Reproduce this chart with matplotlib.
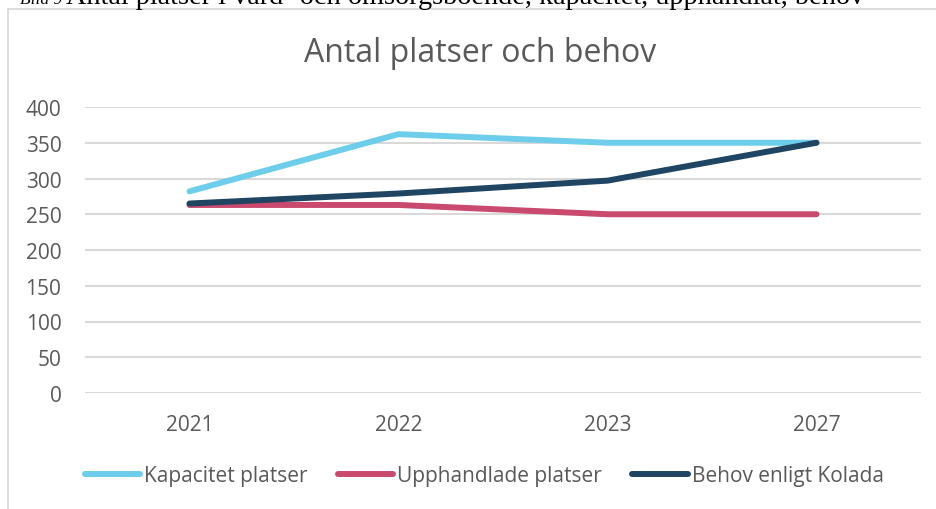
import matplotlib.pyplot as plt
from matplotlib.patches import Rectangle
from matplotlib.lines import Line2D

plt.rcParams['font.family'] = ['Open Sans', 'DejaVu Sans']

# data
years = ['2021', '2022', '2023', '2027']
kapacitet = [282, 362, 350, 350]
upphandlade = [263, 263, 250, 250]
behov = [265, 279, 297, 350]
series_names = ['Kapacitet platser', 'Upphandlade platser', 'Behov enligt Kolada']
colors = ['#6DCDEA', '#C94A6E', '#1F4563']

W, H = 936, 510
fig = plt.figure(figsize=(W / 100, H / 100), dpi=100)

# outer frame of the chart (clipped at right/bottom)
fig.patches.append(Rectangle((8 / W, -0.1), 1.0, (H - 9.5) / H + 0.1,
                             transform=fig.transFigure, fill=False,
                             edgecolor='#D9D9D9', linewidth=1.3))

# caption cut off at top
fig.text(20 / W, 1 - 4 / H, 'Bild 9', fontsize=12.5, style='italic',
         family='Liberation Serif', va='baseline', ha='left')
fig.text(66 / W, 1 - 4 / H,
         'Antal platser i vård- och omsorgsboende, kapacitet, upphandlat, behov',
         fontsize=20.3, family='Liberation Serif', va='baseline', ha='left')

ax = fig.add_axes([85 / W, (H - 394) / H, (921 - 85) / W, (394 - 108) / H])
x = range(len(years))
for vals, c, name in zip([kapacitet, upphandlade, behov], colors, series_names):
    ax.plot(x, vals, color=c, linewidth=4.3, solid_capstyle='round', label=name, zorder=3)

ax.set_xlim(-0.5, 3.5)
ax.set_ylim(0, 400)
ax.set_yticks(range(0, 401, 50))
ax.set_xticks(list(x))
ax.set_xticklabels(years)
ax.yaxis.grid(True, color='#D9D9D9', linewidth=1.5)
ax.set_axisbelow(True)
for s in ax.spines.values():
    s.set_visible(False)
ax.tick_params(length=0, labelsize=15, labelcolor='#595959')
ax.tick_params(axis='y', pad=17)
ax.tick_params(axis='x', pad=15)

fig.text(480 / W, 1 - 53 / H, 'Antal platser och behov', fontsize=23,
         color='#595959', ha='center', va='center')

handles = [Line2D([], [], color=c, linewidth=4.3, solid_capstyle='round') for c in colors]
fig.legend(handles, series_names, loc='center left', bbox_to_anchor=(85 / W, 1 - 477 / H),
           ncol=3, frameon=False, fontsize=15, labelcolor='#595959',
           handlelength=2.65, handletextpad=0.2, columnspacing=1.45,
           borderaxespad=0, borderpad=0)

fig.savefig('out.png', dpi=100)
